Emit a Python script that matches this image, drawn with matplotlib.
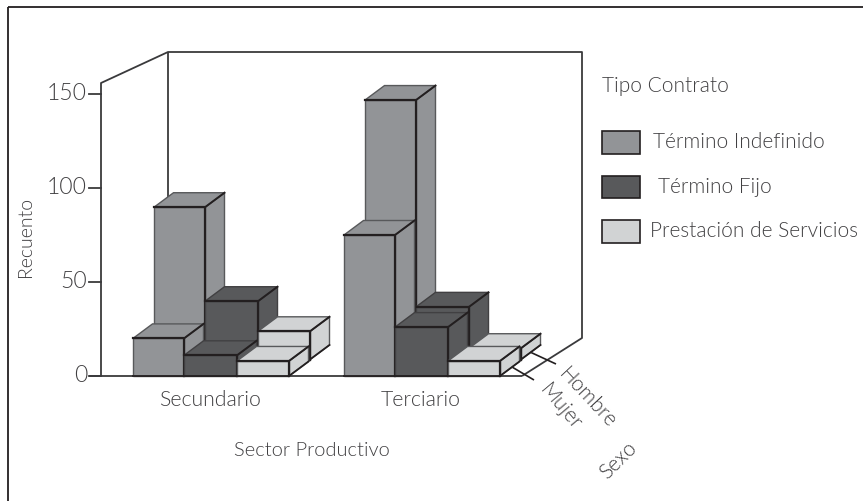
import matplotlib
matplotlib.use("Agg")
import matplotlib.pyplot as plt
from matplotlib.patches import Polygon, Rectangle

sectors = ["Secundario", "Terciario"]
contracts = ["Término Indefinido", "Término Fijo", "Prestación de Servicios"]
sexes = ["Mujer", "Hombre"]
mujer_secundario = [20, 11, 8]
mujer_terciario = [75, 26, 8]
hombre_secundario = [81, 31, 15]
hombre_terciario = [138, 28, 6]
y_ticks = [0, 50, 100, 150]

colors = ["#929497", "#58595b", "#d1d3d4"]
soft_edges = ["#58595b", "#414042", "#58595b"]
edge = "#231f20"
text_color = "#414042"

W, H = 863, 501
scale = 1.88         # pixels per count
zero_px = 376
sector_x = [133, 344]
bar_widths = [51, 53, 52]
row_dx, row_dy = 21, 16.5
side_dx, side_dy = 19.5, 14.5

plt.rcParams["font.family"] = ["Lato", "DejaVu Sans"]
plt.rcParams["font.weight"] = 300

fig = plt.figure(figsize=(W / 100, H / 100), dpi=100)
ax = fig.add_axes([0, 0, 1, 1])
# x runs in pixels, y runs in counts
ax.set_xlim(0, W)
ax.set_ylim((zero_px - H) / scale, zero_px / scale)
ax.axis("off")


def yc(px):
    return (zero_px - px) / scale


def line(xs, ys, color=edge, lw=1.2, z=1):
    ax.plot(xs, [yc(v) for v in ys], color=color, lw=lw, zorder=z, solid_capstyle="butt")


def label(x, y, s, size=15, rot=0, ha="center"):
    ax.text(x, yc(y), s, fontsize=size, rotation=rot, ha=ha, va="center",
            color=text_color, rotation_mode="anchor")


def box(x, width, base, value, color, soft, z):
    # one oblique bar: faces with a soft outline, then the heavy front edges
    dy = side_dy / scale
    top = base + value
    r = x + width
    faces = [
        [(r, base), (r + side_dx, base + dy), (r + side_dx, top + dy), (r, top)],
        [(x, top), (x + side_dx, top + dy), (r + side_dx, top + dy), (r, top)],
        [(x, base), (r, base), (r, top), (x, top)],
    ]
    for f in faces:
        ax.add_patch(Polygon(f, closed=True, facecolor=color, edgecolor=soft, lw=1.0,
                             joinstyle="miter", zorder=z))
    ax.plot([x, r, r], [top, top, base], color=edge, lw=1.6, zorder=z)
    ax.plot([x, r], [base, base], color=edge, lw=1.3, zorder=z)
    ax.plot([r, r + side_dx], [top, top + dy], color=edge, lw=1.4, zorder=z)
    ax.plot([r, r + side_dx], [base, base + dy], color=edge, lw=1.3, zorder=z)


# outer frame, only top and left
line([7.5, 7.5], [7, H], lw=1.3)
line([7.5, W], [7, 7], lw=1.3)

# walls and floor
wall = "#3a3a3c"
line([101, 101, 168, 582, 582, 522], [376, 83, 52, 52, 338, 376], color=wall, lw=1.3)
line([168, 168], [52, 340], color=wall, lw=1.3)
line([89, 522], [376, 376], color=wall, lw=1.3)
for t in y_ticks:
    ax.plot([89, 101], [t, t], color=wall, lw=1.3, zorder=1)
    label(87, zero_px - t * scale, str(t), size=16.5, ha="right")

# depth ticks
line([530, 556], [352, 364], z=1)
line([512, 534], [367, 380], z=1)

# back row first, left to right, so nearer faces cover the others
z = 2
rows = [(1, hombre_secundario, hombre_terciario), (0, mujer_secundario, mujer_terciario)]
for row, secundario, terciario in rows:
    for start, values in zip(sector_x, [secundario, terciario]):
        x = start + row * row_dx
        for i, v in enumerate(values):
            box(x, bar_widths[i], row * row_dy / scale, v, colors[i], soft_edges[i], z)
            x += bar_widths[i]
            z += 1

label(210, 400, sectors[0], size=15.3)
label(421, 400, sectors[1], size=15.3)
label(312, 450, "Sector Productivo", size=14.5)
label(25, 237, "Recuento", size=14, rot=90)
label(588, 398, sexes[1], rot=-47)
label(561, 407, sexes[0], rot=-50)
label(618, 460, "Sexo", rot=45)

# legend
label(602, 86, "Tipo Contrato", ha="left")
legend_y = [(131, 154), (176, 198), (220, 243)]
legend_x = [653, 658, 650]
for (y0, y1), lx, c, name in zip(legend_y, legend_x, colors, contracts):
    ax.add_patch(Rectangle((602, yc(y1)), 38, yc(y0) - yc(y1), facecolor=c, edgecolor=edge, lw=1.2))
    label(lx, (y0 + y1) / 2, name, ha="left")

fig.savefig("out.png", dpi=100)
